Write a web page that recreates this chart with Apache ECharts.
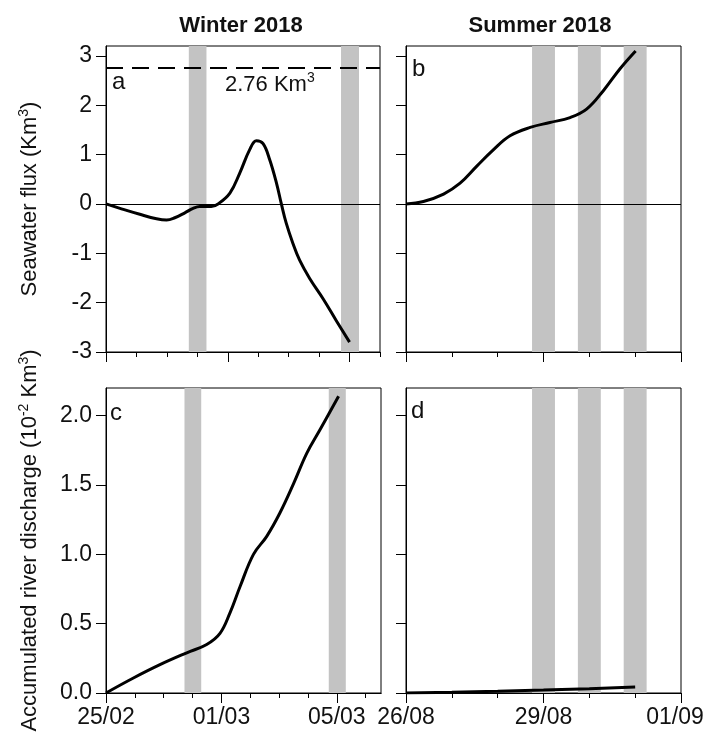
<!DOCTYPE html>
<html>
<head>
<meta charset="utf-8">
<script src="https://cdn.jsdelivr.net/npm/echarts@6/dist/echarts.min.js"></script>
<style>
  html, body { margin: 0; padding: 0; background: #fff; }
  #chart { width: 706px; height: 739px; }
</style>
</head>
<body>
<div id="chart"></div>
<script>
// days since 25/02 (winter) and since 26/08 (summer)
const winterTickLabels = ['25/02', '01/03', '05/03'];
const winterMajorTicks = [0, 4, 8];
const winterMinorTicks = [1, 2, 3, 5, 6, 7, 9];
const summerTickLabels = ['26/08', '29/08', '01/09'];
const summerMajorTicks = [0, 3, 6];
const summerMinorTicks = [1, 2, 4, 5];

const fluxTicks = [-3, -2, -1, 0, 1, 2, 3];
const riverTicks = [0, 0.5, 1.0, 1.5, 2.0];

const winterBands = [[2.72, 3.30], [7.72, 8.31]];
const summerBands = [[2.75, 3.25], [3.75, 4.25], [4.75, 5.25]];

const fluxRef = 2.76;

// panel a: seawater flux, winter
const fluxWinterX = [0, 0.46, 1.11, 1.66, 1.99, 2.26, 2.59, 2.86, 3.08, 3.46, 3.68, 4.07, 4.39, 4.72, 4.94, 5.16, 5.38, 5.60, 5.76, 5.92, 6.14, 6.36, 6.69, 7.13, 7.56, 8.0];
const fluxWinterY = [0, -0.09, -0.21, -0.30, -0.325, -0.28, -0.18, -0.09, -0.05, -0.05, 0.0, 0.22, 0.62, 1.10, 1.28, 1.22, 0.89, 0.42, 0.0, -0.39, -0.80, -1.14, -1.51, -1.92, -2.36, -2.80];

// panel b: seawater flux, summer
const fluxSummerX = [0, 0.38, 0.82, 1.18, 1.54, 1.91, 2.27, 2.71, 3.14, 3.58, 3.94, 4.31, 4.67, 5.01];
const fluxSummerY = [0, 0.05, 0.20, 0.42, 0.76, 1.10, 1.38, 1.55, 1.65, 1.75, 1.92, 2.30, 2.74, 3.10];

// panel c: accumulated river discharge, winter
const riverWinterX = [0, 0.95, 1.87, 2.80, 3.49, 3.95, 4.30, 4.65, 5.11, 5.57, 6.03, 6.50, 6.96, 7.42, 8.06];
const riverWinterY = [0, 0.108, 0.204, 0.29, 0.35, 0.43, 0.58, 0.77, 1.00, 1.13, 1.30, 1.51, 1.73, 1.90, 2.14];

// panel d: accumulated river discharge, summer
const riverSummerX = [0, 1, 2, 3, 4, 5];
const riverSummerY = [0, 0.006, 0.013, 0.021, 0.031, 0.043];

const FONT = "'Liberation Sans', Arial, sans-serif";
const zip = (xs, ys) => xs.map((x, i) => [x, ys[i]]);

const grids = [
  { left: 106, top: 46, width: 274, height: 306 },
  { left: 406, top: 46, width: 275, height: 306 },
  { left: 106, top: 388, width: 275, height: 305 },
  { left: 406, top: 388, width: 275, height: 305 }
];

function xPair(gridIndex, max, majors, minors, labels) {
  const base = {
    type: 'value', gridIndex: gridIndex, min: 0, max: max, position: 'bottom',
    splitLine: { show: false },
    axisLine: { show: true, onZero: false, lineStyle: { color: '#000', width: 1 } }
  };
  return [
    Object.assign({}, base, {
      axisTick: { show: true, length: 10, customValues: majors, lineStyle: { color: '#000' } },
      axisLabel: labels ? {
        show: true, customValues: majors, margin: 13, fontSize: 23, fontFamily: FONT, color: '#111',
        formatter: v => {
          const i = majors.indexOf(Math.round(v));
          return i === majors.length - 1 && max === majors[i] ? '{last|' + labels[i] + '}' : labels[i];
        },
        rich: { last: { fontSize: 23, fontFamily: FONT, color: '#111', padding: [0, 12, 0, 0] } }
      } : { show: false }
    }),
    Object.assign({}, base, {
      axisTick: { show: true, length: 5, customValues: minors, lineStyle: { color: '#000' } },
      axisLabel: { show: false }
    })
  ];
}

function yAxis(gridIndex, min, max, ticks, showLabels, name, fmt) {
  return {
    type: 'value', gridIndex: gridIndex, min: min, max: max,
    splitLine: { show: false },
    axisLine: { show: true, onZero: false, lineStyle: { color: '#000', width: 1 } },
    axisTick: { show: true, length: 10, customValues: ticks, lineStyle: { color: '#000' } },
    axisLabel: showLabels ? {
      show: true, customValues: ticks, margin: 14, fontSize: 23, fontFamily: FONT, color: '#111',
      formatter: fmt
    } : { show: false },
    name: name || '',
    nameLocation: 'middle',
    nameGap: 64,
    nameTextStyle: {
      fontSize: 22, fontFamily: FONT, color: '#111',
      rich: { sup: { fontSize: 14, fontFamily: FONT, color: '#111', verticalAlign: 'top', lineHeight: 25 },
              n: { fontSize: 22, fontFamily: FONT, color: '#111', lineHeight: 25 } }
    }
  };
}

const bandArea = bands => ({
  silent: true,
  itemStyle: { color: '#c3c3c3' },
  data: bands.map(b => [{ xAxis: b[0] }, { xAxis: b[1] }])
});

const lineSeries = (xi, yi, data, extra) => Object.assign({
  type: 'line', xAxisIndex: xi, yAxisIndex: yi, data: data,
  showSymbol: false, smooth: 0.4, silent: true, z: 5,
  lineStyle: { color: '#000', width: 3 }
}, extra || {});

const zeroLine = () => ({
  silent: true, symbol: 'none', label: { show: false },
  lineStyle: { color: '#000', width: 1, type: 'solid' },
  data: [{ yAxis: 0 }]
});

const option = {
  animation: false,
  backgroundColor: '#fff',
  grid: grids.map(g => Object.assign({
    show: true, borderColor: '#000', borderWidth: 1, backgroundColor: 'transparent',
    containLabel: false, outerBoundsMode: 'none'
  }, g)),
  xAxis: [].concat(
    xPair(0, 9, winterMajorTicks, winterMinorTicks, null),
    xPair(1, 6, summerMajorTicks, summerMinorTicks, null),
    xPair(2, 9.53, winterMajorTicks, winterMinorTicks, winterTickLabels),
    xPair(3, 6, summerMajorTicks, summerMinorTicks, summerTickLabels)
  ),
  yAxis: [
    yAxis(0, -3, 3.2, fluxTicks, true, '{n|Seawater flux (Km}{sup|3}{n|)}', v => String(v)),
    yAxis(1, -3, 3.2, fluxTicks, false),
    yAxis(2, 0, 2.2, riverTicks, true, '{n|Accumulated river discharge (10}{sup|-2}{n| Km}{sup|3}{n|)}', v => v.toFixed(1)),
    yAxis(3, 0, 2.2, riverTicks, false)
  ],
  series: [
    lineSeries(0, 0, zip(fluxWinterX, fluxWinterY), {
      markArea: bandArea(winterBands),
      markLine: {
        silent: true, symbol: 'none', label: { show: false },
        data: [
          { yAxis: 0, lineStyle: { color: '#000', width: 1, type: 'solid' } },
          { yAxis: fluxRef, lineStyle: { color: '#000', width: 2, type: [17, 9] } }
        ]
      }
    }),
    lineSeries(2, 1, zip(fluxSummerX, fluxSummerY), {
      markArea: bandArea(summerBands),
      markLine: zeroLine()
    }),
    lineSeries(4, 2, zip(riverWinterX, riverWinterY), { markArea: bandArea(winterBands) }),
    lineSeries(6, 3, zip(riverSummerX, riverSummerY), { markArea: bandArea(summerBands), smooth: false })
  ],
  graphic: [
    { type: 'text', x: 241, y: 26, style: { text: 'Winter 2018', align: 'center', verticalAlign: 'middle', font: 'bold 22px ' + FONT, fill: '#111' } },
    { type: 'text', x: 540, y: 26, style: { text: 'Summer 2018', align: 'center', verticalAlign: 'middle', font: 'bold 22px ' + FONT, fill: '#111' } },
    { type: 'text', x: 112, y: 82, z: 10, style: { text: 'a', align: 'left', verticalAlign: 'middle', font: '24px ' + FONT, fill: '#111' } },
    { type: 'text', x: 412, y: 69, z: 10, style: { text: 'b', align: 'left', verticalAlign: 'middle', font: '24px ' + FONT, fill: '#111' } },
    { type: 'text', x: 110, y: 413, z: 10, style: { text: 'c', align: 'left', verticalAlign: 'middle', font: '24px ' + FONT, fill: '#111' } },
    { type: 'text', x: 411, y: 411, z: 10, style: { text: 'd', align: 'left', verticalAlign: 'middle', font: '24px ' + FONT, fill: '#111' } },
    { type: 'text', x: 225, y: 71, z: 10, style: {
        text: '{n|2.76 Km}{sup|3}', align: 'left', verticalAlign: 'top',
        rich: {
          n: { fontSize: 22, fontFamily: FONT, fill: '#111', lineHeight: 25, verticalAlign: 'bottom' },
          sup: { fontSize: 14, fontFamily: FONT, fill: '#111', lineHeight: 25, verticalAlign: 'top' }
        }
      } }
  ]
};

const chart = echarts.init(document.getElementById('chart'), null, { renderer: 'canvas' });
chart.setOption(option);
</script>
</body>
</html>
